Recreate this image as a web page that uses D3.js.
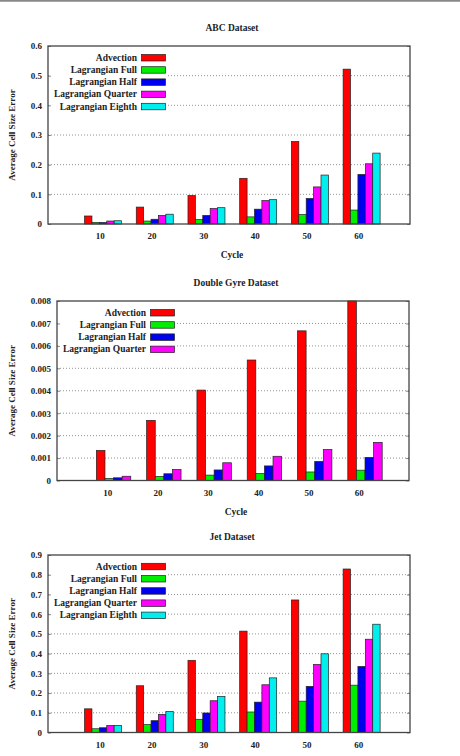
<!DOCTYPE html>
<html>
<head>
<meta charset="utf-8">
<script src="https://cdn.jsdelivr.net/npm/d3@7"></script>
<style>
html,body{margin:0;padding:0;background:#fff;}
svg{display:block;}
text{font-family:"Liberation Serif","Times New Roman",serif;font-weight:bold;fill:#222;}
</style>
</head>
<body>
<script>
const cycles = [10, 20, 30, 40, 50, 60];
const seriesNames = ["Advection", "Lagrangian Full", "Lagrangian Half", "Lagrangian Quarter", "Lagrangian Eighth"];
const seriesColors = ["#ff0000", "#00ee00", "#0000ee", "#ff00ff", "#00eeee"];

const abcAdvection = [0.027, 0.057, 0.096, 0.154, 0.278, 0.522];
const abcFull       = [0.005, 0.010, 0.015, 0.024, 0.032, 0.047];
const abcHalf       = [0.005, 0.016, 0.029, 0.050, 0.086, 0.167];
const abcQuarter    = [0.010, 0.029, 0.052, 0.079, 0.125, 0.203];
const abcEighth     = [0.011, 0.033, 0.055, 0.082, 0.165, 0.239];
const abcTicks = [0, 0.1, 0.2, 0.3, 0.4, 0.5, 0.6];

const dgAdvection = [0.00134, 0.00268, 0.00403, 0.00537, 0.00667, 0.0080];
const dgFull      = [0.00009, 0.00018, 0.00024, 0.00031, 0.00038, 0.00046];
const dgHalf      = [0.00012, 0.00030, 0.00047, 0.00065, 0.00085, 0.00103];
const dgQuarter   = [0.00019, 0.00049, 0.00079, 0.00108, 0.00138, 0.00170];
const dgTicks = [0, 0.001, 0.002, 0.003, 0.004, 0.005, 0.006, 0.007, 0.008];

const jetAdvection = [0.120, 0.237, 0.366, 0.514, 0.672, 0.829];
const jetFull      = [0.019, 0.040, 0.067, 0.104, 0.159, 0.240];
const jetHalf      = [0.024, 0.060, 0.099, 0.154, 0.234, 0.335];
const jetQuarter   = [0.036, 0.092, 0.161, 0.242, 0.345, 0.473];
const jetEighth    = [0.036, 0.107, 0.183, 0.277, 0.399, 0.549];
const jetTicks = [0, 0.1, 0.2, 0.3, 0.4, 0.5, 0.6, 0.7, 0.8, 0.9];

const charts = [
  {title: "ABC Dataset", series: [abcAdvection, abcFull, abcHalf, abcQuarter, abcEighth], ticks: abcTicks, fmt: d3.format(".1~f"),
   left: 48, right: 410, top: 46, bottom: 224, titleY: 31, barW: 7.4, barOff: -2.05, legX: 137, legY: 57.5, legStep: 12.2, legRight: 168, cycleLabel: true},
  {title: "Double Gyre Dataset", series: [dgAdvection, dgFull, dgHalf, dgQuarter], ticks: dgTicks, fmt: d3.format(".3~f"),
   left: 57, right: 409, top: 301, bottom: 480.5, titleY: 286, barW: 8.6, barOff: -1.27, legX: 146, legY: 312.5, legStep: 12.2, legRight: 177, cycleLabel: true},
  {title: "Jet Dataset", series: [jetAdvection, jetFull, jetHalf, jetQuarter, jetEighth], ticks: jetTicks, fmt: d3.format(".1~f"),
   left: 48, right: 410, top: 555, bottom: 732.5, titleY: 540, barW: 7.4, barOff: -2.05, legX: 137, legY: 566.3, legStep: 12.2, legRight: 168, cycleLabel: false}
];

const svg = d3.select("body").append("svg").attr("width", 460).attr("height", 756);
svg.append("rect").attr("width", 460).attr("height", 756).attr("fill", "#fff");
svg.append("line").attr("x1", 0).attr("x2", 460).attr("y1", 0.8).attr("y2", 0.8).attr("stroke", "#888").attr("stroke-width", 1.8);

charts.forEach(c => {
  const g = svg.append("g");
  const x = d3.scaleLinear().domain([0, 70]).range([c.left, c.right]);
  const y = d3.scaleLinear().domain([0, c.ticks[c.ticks.length - 1]]).range([c.bottom, c.top]);
  const n = c.series.length;

  // title
  g.append("text").attr("x", (c.left + c.right) / 2 + 3).attr("y", c.titleY).attr("text-anchor", "middle")
    .attr("font-size", 9.5).text(c.title);

  // gridlines
  g.append("g").selectAll("line").data(c.ticks.slice(1, -1)).join("line")
    .attr("x1", c.left).attr("x2", c.right).attr("y1", d => y(d)).attr("y2", d => y(d))
    .attr("stroke", "#777").attr("stroke-width", 0.8).attr("stroke-dasharray", "1,2");

  // legend background (opaque key)
  const legTop = c.legY - 7, legBot = c.legY + c.legStep * (n - 1) + 7;
  g.append("rect").attr("x", c.left + 1).attr("y", legTop).attr("width", c.legRight - c.left - 1).attr("height", legBot - legTop).attr("fill", "#fff");

  // bars
  c.series.forEach((vals, k) => {
    g.append("g").selectAll("rect").data(vals).join("rect")
      .attr("x", (d, i) => x(cycles[i]) + c.barOff * c.barW + k * c.barW)
      .attr("y", d => y(d))
      .attr("width", c.barW)
      .attr("height", d => y(0) - y(d))
      .attr("fill", seriesColors[k]).attr("stroke", "#222").attr("stroke-width", 0.7);
  });

  // y axis tick labels
  const yAxis = d3.axisLeft(y).tickValues(c.ticks).tickFormat(c.fmt).tickSize(-3).tickPadding(6);
  const ya = g.append("g").attr("transform", `translate(${c.left},0)`).call(yAxis);
  ya.select(".domain").remove();
  ya.selectAll("line").attr("stroke", "#888");
  ya.selectAll("text").attr("font-size", 9).attr("font-family", "Liberation Serif").attr("font-weight", "bold").attr("fill", "#222");
  const yAxisR = d3.axisRight(y).tickValues(c.ticks).tickSize(-3).tickFormat("");
  const yr = g.append("g").attr("transform", `translate(${c.right},0)`).call(yAxisR);
  yr.select(".domain").remove();
  yr.selectAll("line").attr("stroke", "#888");

  // x axis tick labels
  const xAxis = d3.axisBottom(x).tickValues(cycles).tickFormat(d3.format("d")).tickSize(0).tickPadding(9);
  const xa = g.append("g").attr("transform", `translate(0,${c.bottom})`).call(xAxis);
  xa.select(".domain").remove();
  xa.selectAll("text").attr("font-size", 9).attr("font-family", "Liberation Serif").attr("font-weight", "bold").attr("fill", "#222");

  // frame
  g.append("rect").attr("x", c.left).attr("y", c.top).attr("width", c.right - c.left).attr("height", c.bottom - c.top)
    .attr("fill", "none").attr("stroke", "#444").attr("stroke-width", 1.3);

  // y label
  g.append("text").attr("transform", `translate(15,${(c.top + c.bottom) / 2}) rotate(-90)`).attr("text-anchor", "middle")
    .attr("font-size", 9).text("Average Cell Size Error");

  // x label
  if (c.cycleLabel) {
    g.append("text").attr("x", (c.left + c.right) / 2 + 3).attr("y", c.bottom + 34).attr("text-anchor", "middle")
      .attr("font-size", 9.5).text("Cycle");
  }

  // legend
  const lg = g.append("g");
  c.series.forEach((vals, k) => {
    const yy = c.legY + k * c.legStep;
    lg.append("text").attr("x", c.legX).attr("y", yy + 3.2).attr("text-anchor", "end").attr("font-size", 9.5).text(seriesNames[k]);
    lg.append("rect").attr("x", c.legX + 4.5).attr("y", yy - 3).attr("width", 24).attr("height", 6.5)
      .attr("fill", seriesColors[k]).attr("stroke", "#222").attr("stroke-width", 0.7);
  });
});
</script>
</body>
</html>
